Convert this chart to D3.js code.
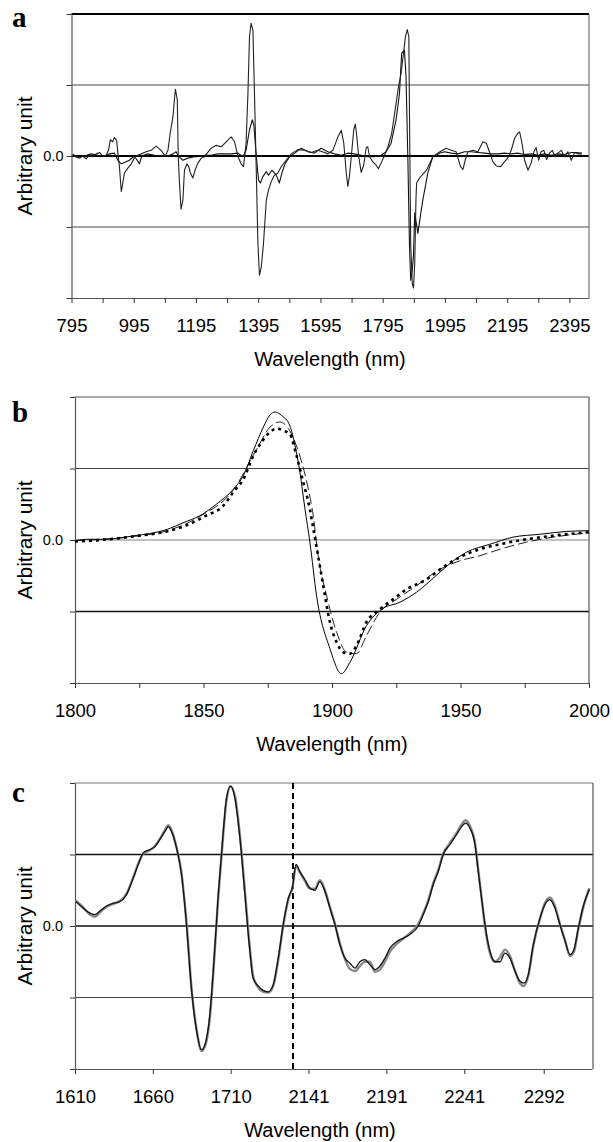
<!DOCTYPE html>
<html>
<head>
<meta charset="utf-8">
<script src="https://cdn.jsdelivr.net/npm/d3@7"></script>
<style>
  body { margin: 0; background: #fff; }
  svg { display: block; }
</style>
</head>
<body>
<svg id="chart" width="613" height="1142"></svg>
<script>
// ---- panel a: full spectrum, two derivative spectra ----
const aTicks = [795, 895, 995, 1095, 1195, 1295, 1395, 1495, 1595, 1695, 1795, 1895, 1995, 2095, 2195, 2295, 2395];
const aLabels = [795, 995, 1195, 1395, 1595, 1795, 1995, 2195, 2395];
const aCurve1 = [[799,0.03],[810,-0.01],[821,-0.03],[831,0.0],[842,-0.04],[853,0.02],[863,-0.01],[874,0.03],[885,0.05],[896,-0.01],[906,0.01],[914,0.08],[920,0.23],[927,0.2],[933,0.26],[940,0.22],[944,0.04],[949,-0.15],[955,-0.5],[958,-0.43],[965,-0.24],[976,-0.17],[987,-0.11],[997,-0.03],[1008,0.01],[1019,0.03],[1035,0.06],[1051,0.08],[1067,0.14],[1083,0.08],[1096,0.0],[1105,0.08],[1112,0.32],[1121,0.55],[1126,0.81],[1129,0.94],[1135,0.79],[1138,0.0],[1142,-0.38],[1147,-0.75],[1153,-0.62],[1158,-0.2],[1166,-0.11],[1172,-0.15],[1177,-0.24],[1185,-0.31],[1192,-0.2],[1201,-0.1],[1212,-0.03],[1222,-0.01],[1244,0.11],[1260,0.15],[1276,0.13],[1292,0.2],[1308,0.27],[1319,0.2],[1330,-0.01],[1340,-0.11],[1348,-0.15],[1356,0.18],[1362,0.88],[1367,1.68],[1372,1.87],[1378,1.77],[1383,0.88],[1388,-0.06],[1394,-1.23],[1399,-1.68],[1405,-1.56],[1412,-1.23],[1421,-0.62],[1428,-0.48],[1437,-0.36],[1447,-0.27],[1458,-0.24],[1469,-0.15],[1485,-0.06],[1501,0.03],[1522,0.09],[1544,0.08],[1565,0.05],[1587,0.08],[1608,0.05],[1619,0.03],[1635,0.08],[1651,0.27],[1662,0.36],[1670,0.18],[1678,-0.24],[1683,-0.43],[1688,-0.29],[1696,0.08],[1702,0.37],[1707,0.45],[1712,0.27],[1718,-0.01],[1726,-0.23],[1734,-0.13],[1742,0.12],[1747,0.13],[1753,-0.01],[1763,-0.08],[1774,-0.13],[1781,-0.18],[1790,-0.1],[1799,-0.01],[1812,0.13],[1824,0.32],[1835,0.65],[1846,0.98],[1854,1.16],[1863,1.49],[1868,1.68],[1874,1.78],[1879,1.68],[1882,0.18],[1885,-1.23],[1890,-1.79],[1894,-1.86],[1898,-1.51],[1902,-0.6],[1904,-0.38],[1915,-0.3],[1936,-0.2],[1956,-0.01],[1979,0.06],[1999,0.11],[2015,0.08],[2031,0.06],[2045,-0.15],[2053,-0.19],[2060,-0.06],[2069,0.06],[2085,0.08],[2101,0.06],[2109,0.13],[2117,0.2],[2128,0.18],[2138,0.06],[2149,-0.08],[2160,-0.14],[2174,-0.15],[2187,-0.08],[2197,-0.03],[2208,0.08],[2219,0.25],[2229,0.32],[2235,0.34],[2242,0.2],[2251,-0.06],[2262,-0.2],[2272,-0.1],[2281,0.06],[2288,0.12],[2296,-0.06],[2304,0.06],[2313,0.08],[2322,-0.05],[2331,0.04],[2340,0.08],[2349,-0.01],[2358,0.04],[2369,0.08],[2379,-0.01],[2390,0.06],[2401,-0.06],[2412,0.05],[2422,0.03],[2435,0.03]];
const aCurve2 = [[799,0.01],[815,-0.02],[837,0],[858,0.03],[880,0.01],[901,0.0],[917,0.03],[933,0.04],[944,-0.06],[955,-0.11],[965,-0.09],[981,-0.06],[997,0],[1006,-0.06],[1013,-0.11],[1021,0],[1040,0.03],[1062,0.01],[1083,0],[1105,0],[1121,0.03],[1131,0.06],[1140,-0.01],[1153,-0.06],[1169,-0.03],[1190,-0.01],[1201,-0.01],[1222,0.01],[1244,0.01],[1265,0.03],[1287,0.03],[1308,0.03],[1330,0.04],[1346,-0.01],[1356,0.08],[1367,0.37],[1376,0.51],[1381,0.44],[1388,0.04],[1396,-0.34],[1402,-0.38],[1410,-0.29],[1421,-0.22],[1428,-0.27],[1439,-0.2],[1453,-0.27],[1463,-0.38],[1471,-0.24],[1482,-0.1],[1496,-0.01],[1512,0.04],[1533,0.11],[1555,0.06],[1576,0.04],[1597,0.11],[1619,0.06],[1640,0.03],[1662,0.01],[1683,0.04],[1704,0.03],[1726,0.01],[1747,-0.01],[1769,-0.01],[1790,0.01],[1806,0.06],[1822,0.18],[1838,0.51],[1849,0.88],[1856,1.45],[1865,1.49],[1870,1.12],[1876,-0.06],[1881,-1.23],[1885,-1.75],[1890,-1.61],[1894,-1.4],[1898,-0.8],[1908,-1.09],[1916,-0.85],[1924,-0.62],[1940,-0.24],[1956,-0.01],[1978,0.04],[1994,0.06],[2015,0.04],[2037,0.03],[2058,0.06],[2080,0.06],[2101,0.05],[2122,0.04],[2144,0.03],[2165,0.03],[2187,0.04],[2208,0.03],[2229,0.04],[2251,0.02],[2272,0.03],[2294,0.01],[2315,0.03],[2337,0.01],[2358,0.03],[2379,0.02],[2401,0.05],[2417,0.05],[2435,0.04]];

// ---- panel b: 1800-2000 nm zoom, three spectra ----
const bTicks = [1800, 1825, 1850, 1875, 1900, 1925, 1950, 1975, 2000];
const bLabels = [1800, 1850, 1900, 1950, 2000];
const bSolid = [[1800,-0.01],[1804.5,0.01],[1810,0.01],[1816,0.02],[1823,0.06],[1829,0.09],[1836,0.15],[1842,0.24],[1848.6,0.34],[1855,0.5],[1861.6,0.71],[1865.5,0.9],[1869.4,1.25],[1873.3,1.58],[1875.9,1.75],[1877.8,1.79],[1880.4,1.74],[1883.6,1.6],[1885.6,1.32],[1887.5,0.95],[1889.5,0.43],[1891.4,-0.03],[1894,-0.78],[1899.2,-1.52],[1903.7,-1.87],[1907,-1.71],[1913.4,-1.2],[1919.3,-0.97],[1926.4,-0.87],[1932.9,-0.73],[1942,-0.45],[1947.2,-0.29],[1952.4,-0.17],[1961.4,-0.06],[1970.5,0.04],[1980.9,0.08],[1991.3,0.12],[2000,0.13]];
const bDotted = [[1800,-0.02],[1810,0.0],[1822.7,0.05],[1835.7,0.12],[1843,0.2],[1851,0.34],[1857.7,0.48],[1861.6,0.67],[1865.5,0.85],[1869.4,1.18],[1872.6,1.37],[1875.9,1.51],[1878.5,1.56],[1881,1.53],[1883.6,1.48],[1886.2,1.18],[1888.8,0.81],[1891.4,0.43],[1893,0.1],[1894.5,-0.2],[1896.6,-0.64],[1899.2,-1.15],[1901.8,-1.43],[1904.4,-1.57],[1907,-1.59],[1909.5,-1.48],[1913.4,-1.15],[1918.6,-0.97],[1923.8,-0.83],[1929,-0.69],[1936.8,-0.55],[1943.3,-0.38],[1949.8,-0.24],[1957.5,-0.13],[1965.3,-0.06],[1975.7,0.01],[1986,0.06],[2000,0.11]];
const bDashed = [[1800,-0.01],[1810,0.01],[1823,0.05],[1836,0.13],[1848.6,0.33],[1861.6,0.7],[1870.7,1.27],[1875.9,1.58],[1879.7,1.65],[1883,1.56],[1885.6,1.37],[1888.2,1.09],[1890.8,0.71],[1892.7,0.34],[1894.6,-0.22],[1897.9,-0.78],[1901.8,-1.29],[1905.7,-1.57],[1909.5,-1.59],[1913.4,-1.34],[1918.6,-1.01],[1925.1,-0.83],[1932.9,-0.64],[1942,-0.41],[1949.8,-0.29],[1957.5,-0.22],[1965.3,-0.13],[1975.7,-0.03],[1986,0.04],[2000,0.1]];

// ---- panel c: two spectral windows joined at the dashed line ----
const cTicks = [1610, 1660, 1710, 2141, 2191, 2241, 2292];
const cBreak = 1750;
const cCurve1 = [[1610.6,0.34],[1615.3,0.25],[1619.6,0.18],[1622.8,0.16],[1626,0.21],[1630.3,0.28],[1634.6,0.32],[1638.8,0.34],[1643.1,0.44],[1647.4,0.67],[1650.6,0.86],[1653.8,1.02],[1658.1,1.07],[1661.3,1.11],[1664.5,1.21],[1667.7,1.32],[1669.9,1.39],[1672,1.32],[1675.2,1.09],[1678.4,0.72],[1681.6,0.02],[1684.9,-0.91],[1688.1,-1.47],[1691.3,-1.73],[1693.4,-1.66],[1696.6,-1.24],[1698.8,-0.63],[1702,0.44],[1705.2,1.32],[1707.3,1.79],[1709.9,1.96],[1712.7,1.79],[1715.9,1.23],[1719.1,0.44],[1721.9,-0.26],[1724.4,-0.73],[1727.7,-0.84],[1730.9,-0.9],[1734.1,-0.92],[1737.3,-0.82],[1740.5,-0.45],[1743.7,0.02],[1747,0.39],[1749.7,0.55],[2133,0.86],[2135.5,0.76],[2138.7,0.65],[2141.9,0.53],[2145.1,0.5],[2148.3,0.62],[2151.6,0.48],[2154.8,0.25],[2158,0.02],[2161.2,-0.26],[2164.4,-0.45],[2167.6,-0.52],[2170.8,-0.59],[2174,-0.5],[2177.2,-0.47],[2180.4,-0.54],[2183.7,-0.61],[2186.9,-0.56],[2190.1,-0.45],[2193.3,-0.31],[2197.6,-0.22],[2201.8,-0.17],[2206.1,-0.12],[2211.5,0.0],[2214.7,0.16],[2217.9,0.34],[2221.1,0.58],[2224.3,0.76],[2227.5,1.0],[2231.8,1.14],[2236.1,1.28],[2239.3,1.39],[2241.9,1.44],[2244.6,1.37],[2247.9,1.14],[2250,0.76],[2252.1,0.39],[2254.3,0.02],[2257.5,-0.35],[2260.7,-0.5],[2263.9,-0.5],[2267.1,-0.38],[2270.3,-0.45],[2273.5,-0.63],[2276.7,-0.77],[2279.3,-0.8],[2282.1,-0.68],[2285.3,-0.26],[2289.6,0.11],[2292.8,0.3],[2296,0.37],[2299.2,0.25],[2302.4,0.02],[2305.7,-0.21],[2308.9,-0.4],[2311.4,-0.33],[2314.2,-0.03],[2317.4,0.28],[2321.3,0.51]];
const cCurve2 = [[1610.6,0.36],[1615.3,0.26],[1619.6,0.16],[1622.8,0.13],[1626,0.19],[1630.3,0.27],[1634.6,0.31],[1638.8,0.35],[1643.1,0.45],[1647.4,0.68],[1650.6,0.87],[1653.8,1.01],[1658.1,1.06],[1661.3,1.12],[1664.5,1.22],[1667.7,1.34],[1669.9,1.41],[1672,1.34],[1675.2,1.1],[1678.4,0.74],[1681.6,0.05],[1684.9,-0.88],[1688.1,-1.45],[1691.3,-1.75],[1693.4,-1.69],[1696.6,-1.28],[1698.8,-0.66],[1702,0.4],[1705.2,1.28],[1707.3,1.76],[1709.9,1.95],[1712.7,1.82],[1715.9,1.27],[1719.1,0.5],[1721.9,-0.22],[1724.4,-0.7],[1727.7,-0.86],[1730.9,-0.92],[1734.1,-0.93],[1737.3,-0.84],[1740.5,-0.48],[1743.7,0.0],[1747,0.37],[1749.7,0.54],[2133,0.84],[2135.5,0.75],[2138.7,0.63],[2141.9,0.52],[2145.1,0.52],[2148.3,0.64],[2151.6,0.5],[2154.8,0.26],[2158,0.03],[2161.2,-0.25],[2164.4,-0.46],[2167.6,-0.6],[2170.8,-0.63],[2174,-0.56],[2177.2,-0.5],[2180.4,-0.5],[2183.7,-0.64],[2186.9,-0.61],[2190.1,-0.5],[2193.3,-0.36],[2197.6,-0.25],[2201.8,-0.18],[2206.1,-0.1],[2211.5,0.03],[2214.7,0.18],[2217.9,0.36],[2221.1,0.6],[2224.3,0.78],[2227.5,1.01],[2231.8,1.16],[2236.1,1.3],[2239.3,1.42],[2241.9,1.48],[2244.6,1.4],[2247.9,1.16],[2250,0.78],[2252.1,0.4],[2254.3,0.0],[2257.5,-0.38],[2260.7,-0.5],[2263.9,-0.44],[2267.1,-0.33],[2270.3,-0.42],[2273.5,-0.62],[2276.7,-0.8],[2279.3,-0.84],[2282.1,-0.7],[2285.3,-0.28],[2289.6,0.1],[2292.8,0.32],[2296,0.4],[2299.2,0.28],[2302.4,0.03],[2305.7,-0.2],[2308.9,-0.42],[2311.4,-0.36],[2314.2,-0.05],[2317.4,0.26],[2321.3,0.53]];

const yTicks = [-2, -1, 0, 1, 2];

const FONT = '"Liberation Sans", Arial, sans-serif';
const svg = d3.select('#chart');
svg.append('rect').attr('width', 613).attr('height', 1142).attr('fill', '#fff');

function drawPanel(p) {
  const g = svg.append('g');
  const y = d3.scaleLinear().domain([-2, 2]).range([p.bottom, p.top]);
  const x = p.x;

  // horizontal rules (gridlines + top border)
  g.selectAll('.grid').data(yTicks.slice(1)).join('line')
    .attr('x1', p.left).attr('x2', p.right)
    .attr('y1', d => y(d)).attr('y2', d => y(d))
    .attr('stroke', (d, i) => p.gridColor[i]).attr('stroke-width', (d, i) => p.gridWidth[i]);

  // right border
  g.append('line').attr('x1', p.right).attr('x2', p.right).attr('y1', p.top).attr('y2', p.bottom)
    .attr('stroke', p.rightColor).attr('stroke-width', 1.2);

  // x axis
  g.append('g').attr('transform', `translate(0,${p.bottom})`)
    .call(d3.axisBottom(x).tickValues(p.ticks).tickSize(5).tickSizeOuter(0).tickPadding(16)
      .tickFormat(d => p.labels.includes(d) ? d : ''))
    .call(a => a.select('.domain').attr('stroke', '#555').attr('stroke-width', 1.2))
    .call(a => a.selectAll('.tick line').attr('stroke', '#333'))
    .call(a => a.selectAll('.tick text').attr('fill', '#000').attr('font-size', '18.5px').attr('font-family', FONT));

  // y axis
  g.append('g').attr('transform', `translate(${p.left},0)`)
    .call(d3.axisLeft(y).tickValues(yTicks).tickSize(5).tickSizeOuter(0).tickPadding(p.yPad)
      .tickFormat(d => d === 0 ? '0.0' : ''))
    .call(a => a.select('.domain').attr('stroke', '#555').attr('stroke-width', 1.2))
    .call(a => a.selectAll('.tick line').attr('stroke', '#333'))
    .call(a => a.selectAll('.tick text').attr('fill', '#000').attr('font-size', '14.5px').attr('font-family', FONT));

  if (p.extra) p.extra(g, x, y);

  // spectra
  const line = d3.line().x(d => x(d[0])).y(d => y(d[1])).curve(p.curve);
  p.series.forEach(s => {
    g.append('path').datum(s.data)
      .attr('d', line).attr('fill', 'none')
      .attr('stroke', s.color).attr('stroke-width', s.width)
      .attr('stroke-dasharray', s.dash || null)
      .attr('stroke-linejoin', 'round');
  });

  // titles
  g.append('text').attr('x', p.titleX).attr('y', p.bottom + 68)
    .attr('text-anchor', 'middle').attr('font-family', FONT).attr('font-size', '20px')
    .text('Wavelength (nm)');
  g.append('text')
    .attr('transform', `translate(31.5,${(p.top + p.bottom) / 2}) rotate(-90)`)
    .attr('text-anchor', 'middle').attr('font-family', FONT).attr('font-size', '21px')
    .text('Arbitrary unit');
  g.append('text').attr('x', 12).attr('y', p.top + p.letterDy)
    .attr('font-family', '"Liberation Serif", "Times New Roman", serif').attr('font-weight', 'bold')
    .attr('font-size', '29px').text(p.letter);
}

drawPanel({
  letter: 'a', letterDy: 13, top: 14, bottom: 298, left: 71.5, right: 589, yPad: 3, titleX: 330,
  x: d3.scaleLinear().domain([795, 2458]).range([71.5, 589]),
  ticks: aTicks, labels: aLabels,
  gridColor: ['#444', '#000', '#444', '#000'], gridWidth: [1, 2, 1, 2],
  rightColor: '#777', curve: d3.curveLinear,
  series: [
    { data: aCurve2, color: '#111', width: 1.1 },
    { data: aCurve1, color: '#222', width: 1.1 },
  ],
});

drawPanel({
  letter: 'b', letterDy: 25, top: 397, bottom: 683, left: 75, right: 589, yPad: 7, titleX: 332,
  x: d3.scaleLinear().domain([1800, 2000]).range([75, 589]),
  ticks: bTicks, labels: bLabels,
  gridColor: ['#111', '#aaa', '#444', '#555'], gridWidth: [1.5, 1.5, 1, 1],
  rightColor: '#555', curve: d3.curveMonotoneX,
  series: [
    { data: bDashed, color: '#222', width: 1, dash: '10,4' },
    { data: bDotted, color: '#000', width: 2.6, dash: '3,4' },
    { data: bSolid, color: '#000', width: 1 },
  ],
});

drawPanel({
  letter: 'c', letterDy: 19, top: 783, bottom: 1069, left: 75, right: 593, yPad: 7, titleX: 320,
  x: d3.scaleLinear().domain([1610, cBreak, 2133, 2323]).range([75, 293, 296, 592]),
  ticks: cTicks, labels: cTicks,
  gridColor: ['#444', '#111', '#111', '#777'], gridWidth: [1, 1.5, 1.5, 1],
  rightColor: '#555', curve: d3.curveMonotoneX,
  extra: (g, x, y) => {
    g.append('line').attr('x1', x(cBreak)).attr('x2', x(cBreak)).attr('y1', y(2)).attr('y2', y(-2) + 4)
      .attr('stroke', '#000').attr('stroke-width', 2).attr('stroke-dasharray', '6,4');
  },
  series: [
    { data: cCurve2, color: '#888', width: 2.4 },
    { data: cCurve1, color: '#111', width: 1.3 },
  ],
});
</script>
</body>
</html>
